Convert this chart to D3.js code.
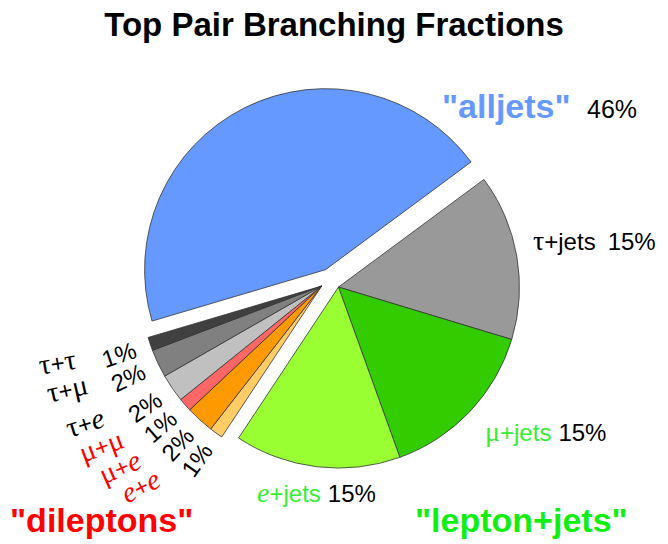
<!DOCTYPE html>
<html>
<head>
<meta charset="utf-8">
<script src="https://cdn.jsdelivr.net/npm/d3@7"></script>
<style>
  html, body { margin: 0; padding: 0; background: #fff; }
  svg { display: block; }
</style>
</head>
<body>
<svg id="chart" width="668" height="544"></svg>
<script>
// ---- data ----
const channels = ["tau+jets", "mu+jets", "e+jets", "e+e", "mu+e", "mu+mu", "tau+e", "tau+mu", "tau+tau", "alljets"];
const groups   = ["lepton+jets", "lepton+jets", "lepton+jets", "dileptons", "dileptons", "dileptons", "dileptons", "dileptons", "dileptons", "alljets"];
const fractions = [14.8, 14.8, 14.8, 1.2, 2.5, 1.2, 2.5, 2.5, 1.2, 44.4];
const percentLabels = ["15%", "15%", "15%", "1%", "2%", "1%", "2%", "2%", "1%", "46%"];
const colors = ["#999999", "#33cc00", "#99ff33", "#ffcc66", "#ff9900", "#ff6666", "#c0c0c0", "#808080", "#404040", "#6699ff"];
// name pieces: [text, kind] kind: g = greek serif, i = italic serif, s = sans
const nameParts = {
  "tau+jets": [["τ","g"],["+jets","s"]],
  "mu+jets":  [["μ","g"],["+jets","s"]],
  "e+jets":   [["e","i"],["+jets","s"]],
  "e+e":      [["e","i"],["+","s"],["e","i"]],
  "mu+e":     [["μ","g"],["+","s"],["e","i"]],
  "mu+mu":    [["μ","g"],["+","s"],["μ","g"]],
  "tau+e":    [["τ","g"],["+","s"],["e","i"]],
  "tau+mu":   [["τ","g"],["+","s"],["μ","g"]],
  "tau+tau":  [["τ","g"],["+","s"],["τ","g"]]
};
const title = "Top Pair Branching Fractions";

// ---- layout ----
const svg = d3.select("#chart");
const W = 668, H = 544;
const cx = 330.5, cy = 279.5, R = 181, explode = 11;
const startA = 53.5 * Math.PI / 180;
const SANS = "'Liberation Sans', Arial, sans-serif";
const SERIF = "'Liberation Serif', 'Times New Roman', serif";

const data = channels.map((c, i) => ({ name: c, group: groups[i], value: fractions[i], pct: percentLabels[i], color: colors[i] }));
const pie = d3.pie().sort(null).value(d => d.value).startAngle(startA).endAngle(startA + 2 * Math.PI);
const arcs = pie(data);
const arc = d3.arc().innerRadius(0).outerRadius(R);

// group bisectors for explosion
const groupInfo = {};
arcs.forEach(a => {
  const g = a.data.group;
  if (!groupInfo[g]) groupInfo[g] = { s: a.startAngle, e: a.endAngle };
  groupInfo[g].s = Math.min(groupInfo[g].s, a.startAngle);
  groupInfo[g].e = Math.max(groupInfo[g].e, a.endAngle);
});
Object.values(groupInfo).forEach(g => {
  const m = (g.s + g.e) / 2;
  g.dx = explode * Math.sin(m);
  g.dy = -explode * Math.cos(m);
});

const gPie = svg.append("g");
gPie.selectAll("path")
  .data(arcs)
  .join("path")
  .attr("d", arc)
  .attr("transform", d => `translate(${cx + groupInfo[d.data.group].dx},${cy + groupInfo[d.data.group].dy})`)
  .attr("fill", d => d.data.color)
  .attr("stroke", "#333")
  .attr("stroke-width", 0.8)
  .attr("stroke-linejoin", "round");

// title
svg.append("text")
  .attr("x", W / 2).attr("y", 36)
  .attr("text-anchor", "middle")
  .attr("font-family", SANS).attr("font-weight", "bold").attr("font-size", 33)
  .attr("fill", "#000")
  .text(title);

function addName(sel, parts, color, gsize) {
  parts.forEach(([t, k]) => {
    const ts = sel.append("tspan").text(t).attr("fill", color);
    if (k === "g") ts.attr("font-family", SERIF).attr("font-size", gsize);
    else if (k === "i") ts.attr("font-family", SERIF).attr("font-style", "italic").attr("font-size", gsize);
    else ts.attr("font-family", SANS);
  });
}

// group labels
svg.append("text").attr("x", 442).attr("y", 118)
  .attr("font-family", SANS).attr("font-weight", "bold").attr("font-size", 34)
  .attr("fill", "#6699ff").text('"alljets"');
svg.append("text").attr("x", 587).attr("y", 118)
  .attr("font-family", SANS).attr("font-size", 25).attr("fill", "#000")
  .text(arcs[9].data.pct);
svg.append("text").attr("x", 415).attr("y", 532)
  .attr("font-family", SANS).attr("font-weight", "bold").attr("font-size", 34)
  .attr("fill", "#11ee11").text('"lepton+jets"');
svg.append("text").attr("x", 10).attr("y", 532)
  .attr("font-family", SANS).attr("font-weight", "bold").attr("font-size", 34)
  .attr("fill", "#ff0000").text('"dileptons"');

// lepton+jets labels
const ljPos = [
  { x: 533, y: 250, color: "#000", gap: 12 },
  { x: 485, y: 441, color: "#33ee33", gap: 7 },
  { x: 257, y: 502, color: "#33ee33", gap: 7 }
];
[0, 1, 2].forEach(i => {
  const d = arcs[i].data;
  const t = svg.append("text").attr("x", ljPos[i].x).attr("y", ljPos[i].y)
    .attr("font-size", 24).attr("font-family", SANS);
  addName(t, nameParts[d.name], ljPos[i].color, 28);
  t.append("tspan").attr("dx", ljPos[i].gap).attr("fill", "#000").attr("font-family", SANS).text(d.pct);
});

// dilepton radial labels
const dl = groupInfo["dileptons"];
const dcx = cx + dl.dx, dcy = cy + dl.dy;
const pctR = 214, nameDist = 62;
arcs.slice(3, 9).forEach(a => {
  const m = (a.startAngle + a.endAngle) / 2;
  const px = dcx + pctR * Math.sin(m), py = dcy - pctR * Math.cos(m);
  const rot = m * 180 / Math.PI - 270 - 360 * Math.floor((m * 180 / Math.PI - 270 + 180) / 360);
  svg.append("text")
    .attr("transform", `translate(${px},${py}) rotate(${rot})`)
    .attr("text-anchor", "middle").attr("dy", "0.36em")
    .attr("font-family", SANS).attr("font-size", 24).attr("fill", "#000")
    .text(a.data.pct);
  const nrot = rot * 0.5;
  const nr = nrot * Math.PI / 180;
  const nx = px - nameDist * Math.cos(nr), ny = py - nameDist * Math.sin(nr);
  const isRed = a.data.name.indexOf("tau") < 0;
  const t = svg.append("text")
    .attr("transform", `translate(${nx},${ny}) rotate(${nrot})`)
    .attr("text-anchor", "middle").attr("dy", "0.3em")
    .attr("font-size", 24);
  addName(t, nameParts[a.data.name], isRed ? "#ff0000" : "#000", 29);
});
</script>
</body>
</html>
